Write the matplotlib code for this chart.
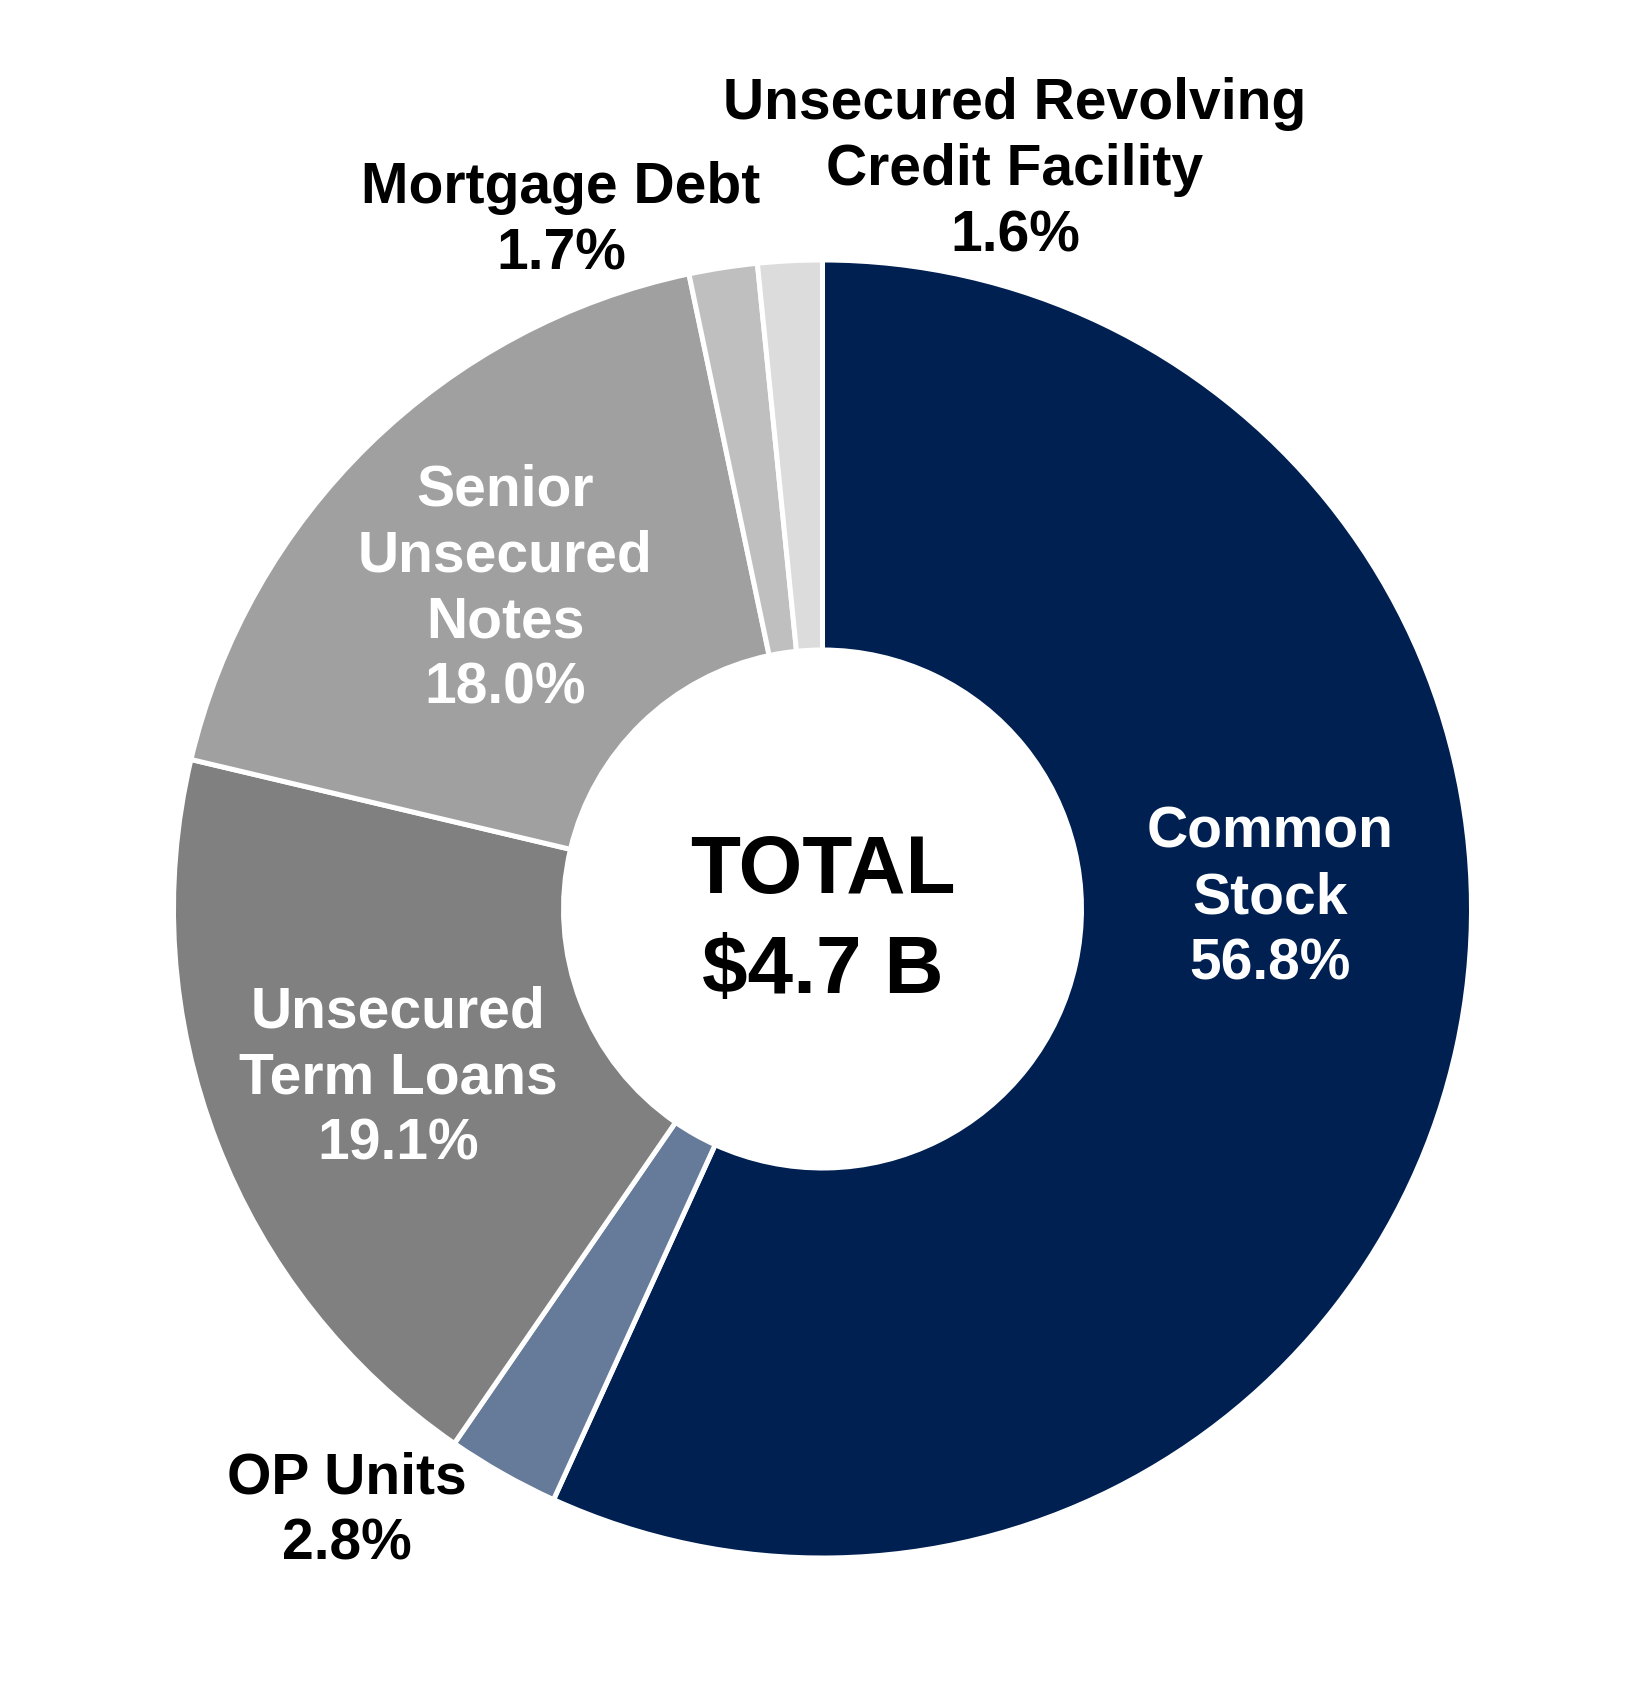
import matplotlib
matplotlib.use("Agg")
import matplotlib.pyplot as plt

plt.rcParams['font.family'] = ['Liberation Sans', 'Arial', 'DejaVu Sans']

# ---- data ----
categories = ["Common Stock", "OP Units", "Unsecured Term Loans",
              "Senior Unsecured Notes", "Mortgage Debt",
              "Unsecured Revolving Credit Facility"]
shares = [56.8, 2.8, 19.1, 18.0, 1.7, 1.6]
label_lines = [["Common", "Stock"], ["OP Units"], ["Unsecured", "Term Loans"],
               ["Senior", "Unsecured", "Notes"], ["Mortgage Debt"],
               ["Unsecured Revolving", "Credit Facility"]]
center_lines = ["TOTAL", "$4.7 B"]

# ---- style ----
colors = ["#002052", "#667A99", "#808080", "#A0A0A0", "#BFBFBF", "#DCDCDC"]
text_colors = ["white", "black", "white", "white", "black", "black"]
# label anchor: (x center px, first baseline px from top)
label_pos = [(1270, 848), (347, 1494), (398, 1028), (505, 506), (561, 203), (1015, 119)]
line_step = 66

W, H = 1652, 1691
fig = plt.figure(figsize=(W / 100, H / 100), dpi=100)
ax = fig.add_axes([0, 0, 1, 1])
ax.set_xlim(0, W)
ax.set_ylim(0, H)
ax.set_aspect('equal')
ax.axis('off')

cx, cy = 822.5, H - 909
R = 649
wedges, _ = ax.pie(shares, colors=colors, startangle=90, counterclock=False,
                   radius=R, center=(cx, cy), frame=True,
                   wedgeprops=dict(width=R - 259, edgecolor='white', linewidth=3.6))
ax.set_xlim(0, W)
ax.set_ylim(0, H)
ax.axis('off')

for lines, v, col, (x, y0) in zip(label_lines, shares, text_colors, label_pos):
    all_lines = lines + [f"{v:.1f}%"]
    for i, t in enumerate(all_lines):
        ax.text(x, H - (y0 + i * line_step), t, ha='center', va='baseline',
                fontsize=41, fontweight='bold', color=col)

ax.text(cx, H - 893, center_lines[0], ha='center', va='baseline',
        fontsize=59, fontweight='bold', color='black')
ax.text(cx, H - 993, center_lines[1], ha='center', va='baseline',
        fontsize=59, fontweight='bold', color='black')

fig.savefig("out.png", dpi=100, facecolor='white')
